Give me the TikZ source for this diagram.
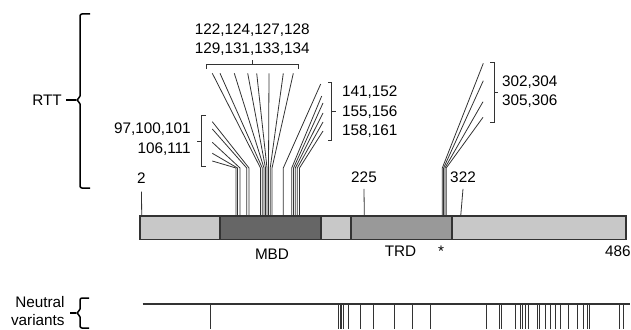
\documentclass[tikz,border=0pt]{standalone}
\usepackage{fontspec}
\setmainfont{Liberation Sans}
\definecolor{barlight}{HTML}{C8C8C8}
\definecolor{barmbd}{HTML}{666666}
\definecolor{bartrd}{HTML}{999999}
\definecolor{inkgray}{HTML}{333333}
\begin{document}
\begin{tikzpicture}[x=1pt,y=-1pt,line width=.8pt,font=\fontsize{15.3}{18}\selectfont,
  mut/.style={draw=inkgray,line width=.8pt},
  segbox/.style={draw=inkgray,line width=1.2pt},
  brack/.style={draw=inkgray,line width=.8pt},
  bigbrace/.style={draw=black,line width=1.5pt,rounded corners=2pt},
  lab/.style={inner sep=0pt}]
\useasboundingbox (0,0) rectangle (631,329);
% protein bar
\draw[segbox,fill=barlight] (140,216) rectangle (626,239.5);
\draw[segbox,fill=barmbd] (220,216) rectangle (321,239.5);
\draw[segbox,fill=bartrd] (351,216) rectangle (452,239.5);
\node[lab] (mbd) at (272,254) {MBD};
\node[lab] (trd) at (400.5,251.5) {TRD};
\node[lab] (star) at (441,251.5) {*};
\node[lab,anchor=east] (end) at (631,251.5) {486};
% position ticks
\node[lab] (p2) at (141.5,178) {2};
\node[lab] (p225) at (364,177) {225};
\node[lab] (p322) at (463,177) {322};
\draw[mut] (141.7,216) -- ([yshift=-8pt]p2.south);
\draw[mut] (364.3,216) -- ([yshift=-6pt]p225.south);
\draw[mut] (460.7,216) -- ([yshift=-6pt]p322.south);
% RTT mutations
\foreach \vx/\ex/\ey in {236/212.3/161,237.5/212.3/153.3,240/212.3/142.3,246.7/212.3/129,249/212.3/121.7,
  260.5/212.3/73.3,262.3/220/73.3,264/234.3/73.3,265.5/247.7/73.3,267/256.7/73.3,268.5/269/73.3,270.2/283.3/73.3,272/293.3/73.3,
  283.3/320.7/84,291.7/321.7/96,293.5/323/103,295.3/323/113,297.3/323/122,299.5/323/131,
  442.3/483.3/63.3,443.6/483.3/80.7,444.9/483/101.7,446.2/483/117.3}
  \draw[mut] (\vx,216) -- (\vx,168) -- (\ex,\ey);
% group labels and brackets
\node[lab,anchor=east] (ga1) at (191,129) {97,100,101};
\node[lab,anchor=east] (ga2) at (191,149) {106,111};
\draw[brack] (206,115) -- (201,115) -- (201,166) -- (206,166);
\draw[brack] (201,141) -- (197,141);
\node[lab] (gb1) at (252.3,30) {122,124,127,128};
\node[lab] (gb2) at (252.3,48.7) {129,131,133,134};
\draw[brack] (206.7,68.5) -- (206.7,64.5) -- (298.3,64.5) -- (298.3,68.5);
\draw[brack] (252.3,64.5) -- (252.3,60);
\node[lab,anchor=west] (gc1) at (341.7,92) {141,152};
\node[lab,anchor=west] (gc2) at (341.7,111.7) {155,156};
\node[lab,anchor=west] (gc3) at (341.7,131) {158,161};
\draw[brack] (328,82) -- (331.7,82) -- (331.7,140) -- (328,140);
\draw[brack] (331.7,111) -- (335.5,111);
\node[lab,anchor=west] (gd1) at (501.7,82) {302,304};
\node[lab,anchor=west] (gd2) at (501.7,101) {305,306};
\draw[brack] (490,62) -- (494,62) -- (494,122) -- (490,122);
\draw[brack] (494,92) -- (497.5,92);
% RTT brace
\node[lab] (rtt) at (47,100) {RTT};
\draw[bigbrace] (90,14) -- (80,14) -- (80,98) -- (76,100) -- (80,102) -- (80,188) -- (90,188);
\draw[line width=1.5pt] (76,100) -- ([xshift=4pt]rtt.east);
% neutral variants
\node[lab,anchor=east] (neu1) at (65,302.5) {Neutral};
\node[lab,anchor=east] (neu2) at (65,320.5) {variants};
\draw[bigbrace] (89,298) -- (80,298) -- (80,311) -- (76,313) -- (80,315) -- (80,328) -- (89,328);
\draw[line width=1.5pt] (76,313) -- ([xshift=5pt]neu1.east |- 0,313);
\draw[line width=1.5pt,draw=inkgray] (142.7,304) -- (630,304);
\foreach \nx in {210,338.3,340,341.7,343.3,348.3,360.7,394,412.3,430.7,486.7,499,501.7,515,520.7,522.3,525.7,528.3,
  537.3,539,545.7,550,555,560.7,568.3,577.7,583.3,587.3,589.3,619}
  \draw[mut] (\nx,304) -- (\nx,329);
\foreach \nx in {373.3,623.3}
  \draw[mut,line width=1.5pt] (\nx,304) -- (\nx,329);
\end{tikzpicture}
\end{document}
